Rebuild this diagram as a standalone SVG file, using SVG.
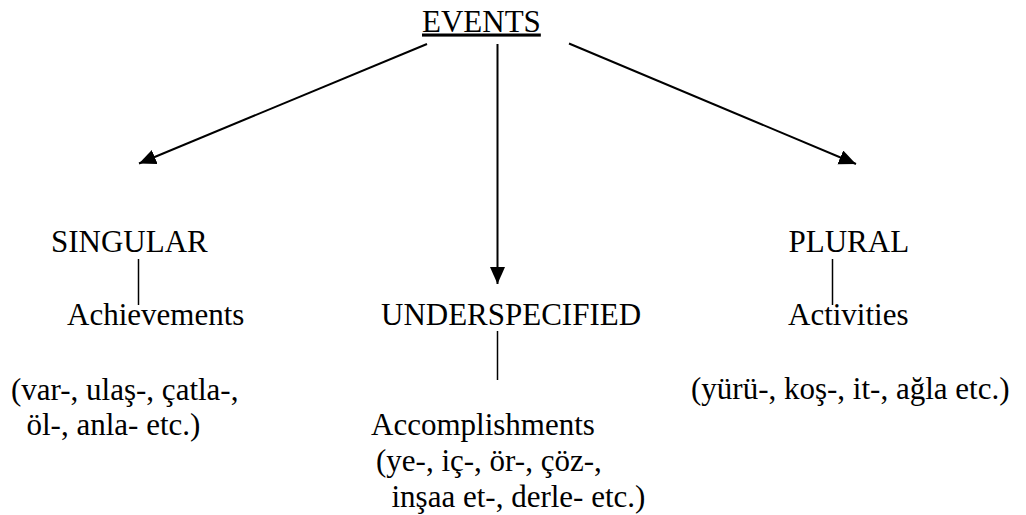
<svg xmlns="http://www.w3.org/2000/svg" width="1026" height="515" viewBox="0 0 1026 515">
<style>
  text { font-family: "Liberation Serif", "Times New Roman", serif; font-size: 31px; fill: #000; }
  .conn { stroke: #000; stroke-width: 2; fill: none; }
  .tick { stroke: #000; stroke-width: 1.5; fill: none; }
</style>
<defs>
  <marker id="arr" markerUnits="userSpaceOnUse" markerWidth="18" markerHeight="16" refX="17" refY="7.5" orient="auto">
    <path d="M0,0 L17,7.5 L0,15 z" fill="#000"/>
  </marker>
</defs>
<rect width="1026" height="515" fill="#fff"/>
<g id="connectors">
  <line class="conn" x1="427" y1="44" x2="139" y2="163.5" marker-end="url(#arr)"/>
  <line class="conn" x1="497.5" y1="44" x2="497.5" y2="284" marker-end="url(#arr)"/>
  <line class="conn" x1="569" y1="43.5" x2="856" y2="164" marker-end="url(#arr)"/>
  <line class="tick" x1="138.5" y1="259" x2="138.5" y2="305"/>
  <line class="tick" x1="497.5" y1="331" x2="497.5" y2="380"/>
  <line class="tick" x1="832.5" y1="259" x2="832.5" y2="305"/>
</g>
<g id="events">
  <text x="422" y="31.5" text-decoration="underline">EVENTS</text>
</g>
<g id="singular">
  <text x="51" y="251.5">SINGULAR</text>
  <text x="67" y="324.5">Achievements</text>
  <text x="11" y="400">(var-, ulaş-, çatla-,</text>
  <text x="11" y="435" xml:space="preserve">  öl-, anla- etc.)</text>
</g>
<g id="underspecified">
  <text x="381" y="325">UNDERSPECIFIED</text>
  <text x="371" y="435">Accomplishments</text>
  <text x="376" y="470.5">(ye-, iç-, ör-, çöz-,</text>
  <text x="376" y="506.5" xml:space="preserve">  inşaa et-, derle- etc.)</text>
</g>
<g id="plural">
  <text x="788.5" y="251.5">PLURAL</text>
  <text x="788" y="324.5">Activities</text>
  <text x="691" y="399">(yürü-, koş-, it-, ağla etc.)</text>
</g>
</svg>
